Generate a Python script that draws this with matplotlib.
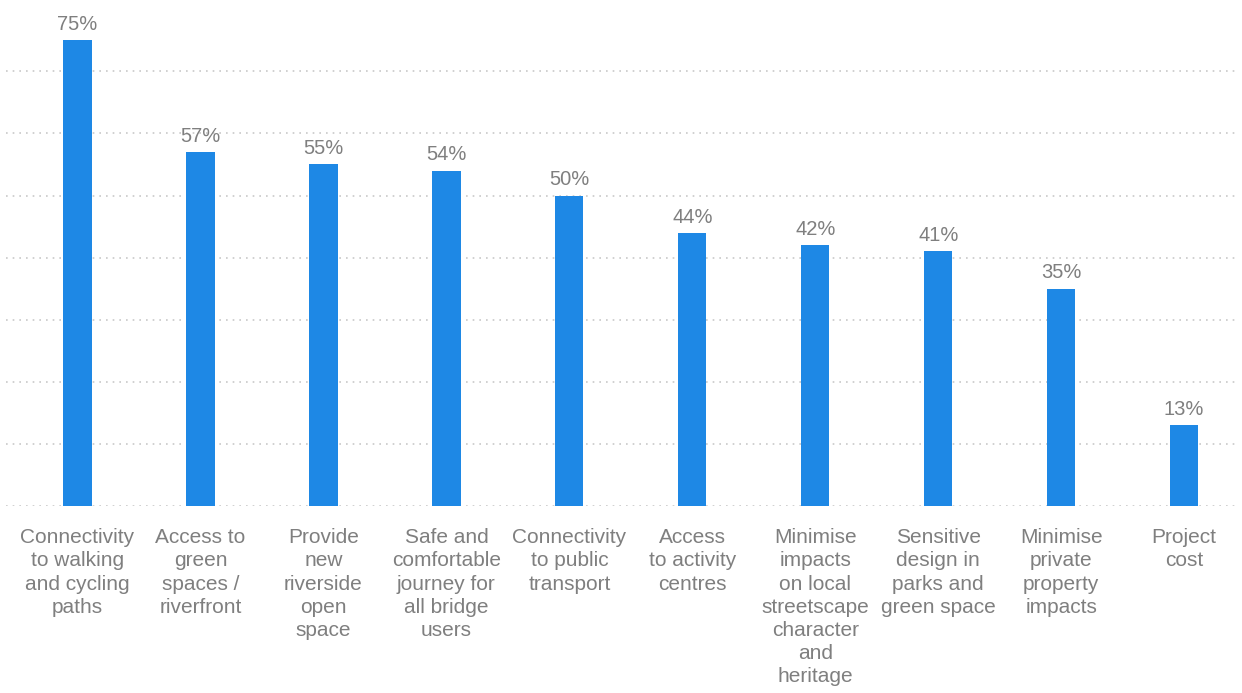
import matplotlib
matplotlib.use("Agg")
from matplotlib import pyplot as plt

# data
categories = [
    "Connectivity\nto walking\nand cycling\npaths",
    "Access to\ngreen\nspaces /\nriverfront",
    "Provide\nnew\nriverside\nopen\nspace",
    "Safe and\ncomfortable\njourney for\nall bridge\nusers",
    "Connectivity\nto public\ntransport",
    "Access\nto activity\ncentres",
    "Minimise\nimpacts\non local\nstreetscape\ncharacter\nand\nheritage",
    "Sensitive\ndesign in\nparks and\ngreen space",
    "Minimise\nprivate\nproperty\nimpacts",
    "Project\ncost",
]
values = [75, 57, 55, 54, 50, 44, 42, 41, 35, 13]

plt.rcParams["font.family"] = ["Liberation Sans", "DejaVu Sans"]

fig = plt.figure(figsize=(12.42, 6.93), dpi=100)
ax = fig.add_axes([0.005, 0.27, 0.99, 0.73])

x = list(range(len(values)))
bars = ax.bar(x, values, width=0.23, color="#1E88E5", zorder=3)

# value labels
for xi, v in zip(x, values):
    ax.text(xi, v + 1.0, f"{v}%", ha="center", va="bottom",
            fontsize=14.5, color="#7f7f7f")

ax.set_xlim(-0.58, 9.42)
ax.set_ylim(0, 81.5)
ax.set_yticks(range(0, 80, 10))
ax.yaxis.grid(True, linestyle=(0, (1, 3)), color="#c8c8c8", linewidth=1.2, zorder=0)

ax.set_xticks(x)
ax.set_xticklabels(categories, fontsize=15, color="#7f7f7f", linespacing=1.28, va="top")
ax.tick_params(axis="x", length=0, pad=16)
ax.tick_params(axis="y", length=0, labelleft=False)

for s in ax.spines.values():
    s.set_visible(False)

fig.savefig("out.png", dpi=100)
